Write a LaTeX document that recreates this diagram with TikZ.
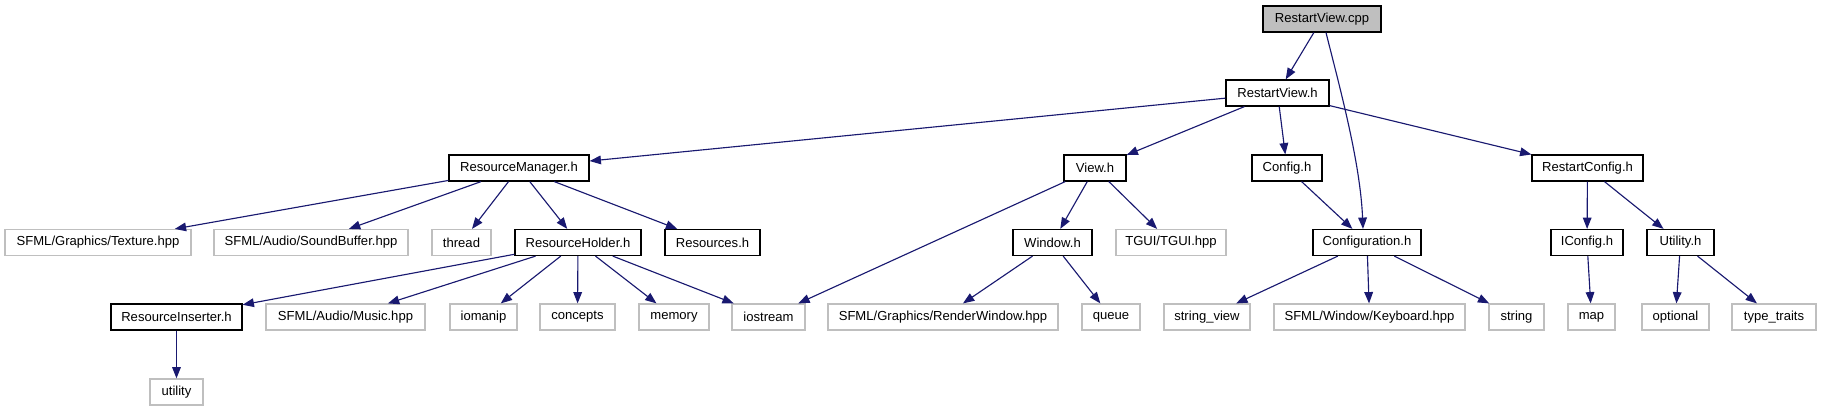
\documentclass[tikz,border=0pt]{standalone}
\usepackage{fontspec}
\setmainfont{Liberation Sans}
\usetikzlibrary{arrows.meta}
\definecolor{edgeblue}{HTML}{191970}
\definecolor{extgray}{HTML}{BFBFBF}
\begin{document}
\begin{tikzpicture}[x=0.75pt,y=-0.75pt,
  base/.style={rectangle, inner sep=0pt, minimum height=19.5pt, font=\fontsize{9.8pt}{11pt}\selectfont, text=black},
  hdr/.style={base, draw=black, line width=0.9pt},
  ext/.style={base, draw=extgray, line width=0.9pt},
  top/.style={base, draw=black, fill=extgray, line width=0.9pt},
  w/.style={minimum width=#1*0.75pt},
  edge/.style={draw=edgeblue, line width=0.85pt, -{Triangle[length=8.5pt,width=6.5pt]}}]
\useasboundingbox (0,0) rectangle (1821,411);
% row 0
\node[top,w=118] (cpp) at (1322,19) {RestartView.cpp};
% row 1
\node[hdr,w=103] (rvh) at (1277.5,93) {RestartView.h};
% row 2
\node[hdr,w=140] (rm) at (519,168) {ResourceManager.h};
\node[hdr,w=62] (view) at (1095,168) {View.h};
\node[hdr,w=70] (config) at (1287,168) {Config.h};
\node[hdr,w=111] (rc) at (1587.5,168) {RestartConfig.h};
% row 3
\node[ext,w=186] (tex) at (98,242.5) {SFML/Graphics/Texture.hpp};
\node[ext,w=194] (sb) at (311,242.5) {SFML/Audio/SoundBuffer.hpp};
\node[ext,w=59] (thread) at (461.5,242.5) {thread};
\node[hdr,w=126] (rh) at (578,242.5) {ResourceHolder.h};
\node[hdr,w=95] (res) at (712.5,242.5) {Resources.h};
\node[hdr,w=79] (win) at (1052.5,242.5) {Window.h};
\node[ext,w=110] (tgui) at (1171,242.5) {TGUI/TGUI.hpp};
\node[hdr,w=108] (conf) at (1367,242.5) {Configuration.h};
\node[hdr,w=72] (iconf) at (1587,242.5) {IConfig.h};
\node[hdr,w=67] (util) at (1680.5,242.5) {Utility.h};
% row 4
\node[hdr,w=131] (ri) at (176.5,317) {ResourceInserter.h};
\node[ext,w=159] (music) at (345.5,317) {SFML/Audio/Music.hpp};
\node[ext,w=67] (iomanip) at (483.5,317) {iomanip};
\node[ext,w=75] (concepts) at (577.5,317) {concepts};
\node[ext,w=70] (memory) at (674,317) {memory};
\node[ext,w=73] (iostream) at (768.5,317) {iostream};
\node[ext,w=230] (rw) at (943,317) {SFML/Graphics/RenderWindow.hpp};
\node[ext,w=58] (queue) at (1111,317) {queue};
\node[ext,w=86] (sv) at (1207,317) {string\_view};
\node[ext,w=191] (kb) at (1369.5,317) {SFML/Window/Keyboard.hpp};
\node[ext,w=55] (string) at (1516.5,317) {string};
\node[ext,w=47] (map) at (1591.5,317) {map};
\node[ext,w=67] (optional) at (1675.5,317) {optional};
\node[ext,w=84] (tt) at (1774,317) {type\_traits};
% row 5
\node[ext,w=53] (utility) at (176.5,392) {utility};
% edges
\draw[edge] (cpp) -- (rvh);
\draw[edge] ([xshift=3pt]cpp.south) .. controls ([xshift=13pt,yshift=-40pt]cpp.south) and ([xshift=-5pt,yshift=50pt]conf.north) .. ([xshift=-3pt]conf.north);
\draw[edge] (rvh) -- (rm);
\draw[edge] (rvh) -- (view);
\draw[edge] (rvh) -- (config);
\draw[edge] (rvh) -- (rc);
\draw[edge] (rm) -- (tex);
\draw[edge] (rm) -- (sb);
\draw[edge] (rm) -- (thread);
\draw[edge] (rm) -- (rh);
\draw[edge] (rm) -- (res);
\draw[edge] (view) -- (iostream);
\draw[edge] (view) -- (win);
\draw[edge] (view) -- (tgui);
\draw[edge] (config) -- (conf);
\draw[edge] (rc) -- (iconf);
\draw[edge] (rc) -- (util);
\draw[edge] (rh) -- (ri);
\draw[edge] (rh) -- (music);
\draw[edge] (rh) -- (iomanip);
\draw[edge] (rh) -- (concepts);
\draw[edge] (rh) -- (memory);
\draw[edge] (rh) -- (iostream);
\draw[edge] (win) -- (rw);
\draw[edge] (win) -- (queue);
\draw[edge] (conf) -- (sv);
\draw[edge] (conf) -- (kb);
\draw[edge] (conf) -- (string);
\draw[edge] (iconf) -- (map);
\draw[edge] (util) -- (optional);
\draw[edge] (util) -- (tt);
\draw[edge] (ri) -- (utility);
\end{tikzpicture}
\end{document}
